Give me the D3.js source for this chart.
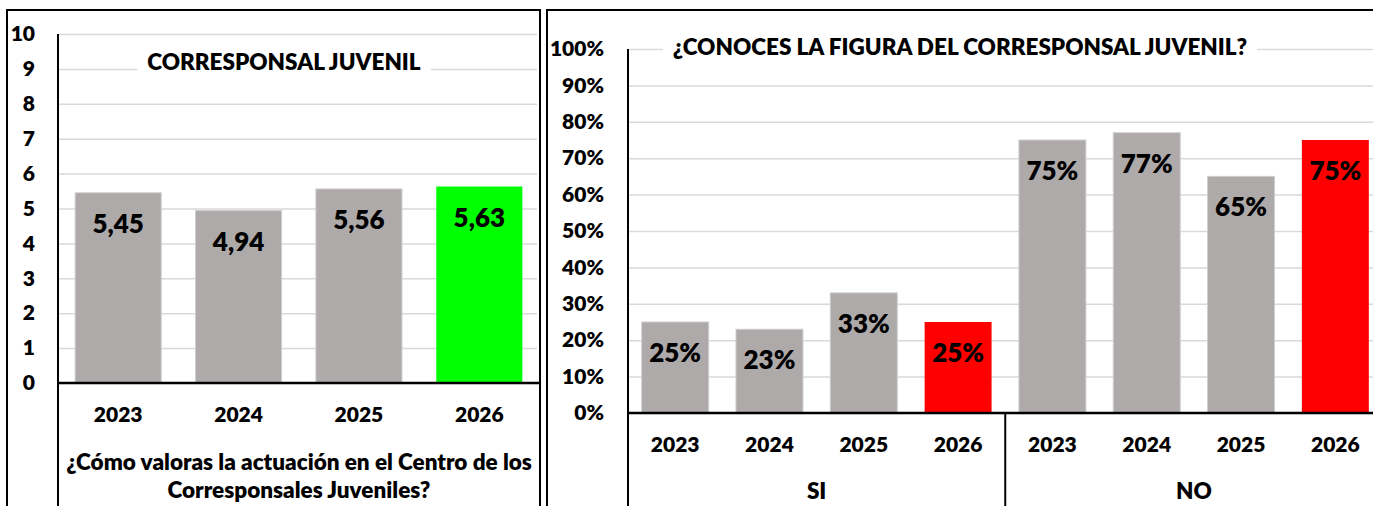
<!DOCTYPE html>
<html>
<head>
<meta charset="utf-8">
<script src="https://cdn.jsdelivr.net/npm/d3@7"></script>
<style>
  html, body { margin: 0; padding: 0; background: #fff; }
  svg { display: block; font-family: Lato, "Open Sans", sans-serif; font-weight: bold; }
</style>
</head>
<body>
<svg id="chart" width="1373" height="506"></svg>
<script>
// ---- Data ----
const leftCategories = ["2023", "2024", "2025", "2026"];
const leftValues = [5.45, 4.94, 5.56, 5.63];
const leftTicks = [0, 1, 2, 3, 4, 5, 6, 7, 8, 9, 10];
const leftTitle = "CORRESPONSAL JUVENIL";
const leftAxisTitle = ["¿Cómo valoras la actuación en el Centro de los", "Corresponsales Juveniles?"];

const rightGroups = ["SI", "NO"];
const rightYears = ["2023", "2024", "2025", "2026"];
const siValues = [25, 23, 33, 25];
const noValues = [75, 77, 65, 75];
const rightTicks = [0, 10, 20, 30, 40, 50, 60, 70, 80, 90, 100];
const rightTitle = "¿CONOCES LA FIGURA DEL CORRESPONSAL JUVENIL?";

const highlightYear = "2026";

// ---- Styles ----
const GRAY = "#AEAAAA";
const GREEN = "#00FF00";
const RED = "#FF0000";
const GRID = "#D9D9D9";
const FS_TICK = 21, FS_TEXT = 22.5, FS_VAL = 26, FW = 800;

const svg = d3.select("#chart");
const esLocale = d3.formatLocale({ decimal: ",", thousands: ".", grouping: [3], currency: ["", "€"] });
const fmtScore = esLocale.format(".2f");

function styleText(sel, size) {
  sel.attr("font-size", size).attr("font-family", "Lato").attr("font-weight", FW).attr("fill", "#000");
}

// Panel borders
svg.append("rect").attr("x", 7).attr("y", 10).attr("width", 533).attr("height", 520)
  .attr("fill", "none").attr("stroke", "#000").attr("stroke-width", 2);
svg.append("rect").attr("x", 547).attr("y", 10).attr("width", 900).attr("height", 520)
  .attr("fill", "none").attr("stroke", "#000").attr("stroke-width", 2);

// ================= LEFT CHART =================
(function () {
  const x0 = 58, x1 = 539.5, yTop = 34, yBase = 383;
  const x = d3.scaleBand().domain(leftCategories).range([x0, x1]).paddingInner(0.285).paddingOuter(0.1425);
  const y = d3.scaleLinear().domain([0, 10]).range([yBase, yTop]);
  const g = svg.append("g");

  const grid = g.append("g").attr("transform", `translate(${x0},0)`)
    .call(d3.axisLeft(y).tickValues(leftTicks).tickSize(-(537 - x0)).tickFormat(""));
  grid.select(".domain").remove();
  grid.selectAll("line").attr("stroke", GRID).attr("stroke-width", 1.5);

  const ax = g.append("g").attr("transform", `translate(35,0)`)
    .call(d3.axisLeft(y).tickValues(leftTicks).tickSize(0).tickPadding(0).tickFormat(d3.format("d")));
  ax.select(".domain").remove();
  styleText(ax.selectAll("text"), FS_TICK);

  g.selectAll("rect.bar").data(leftCategories).join("rect").attr("class", "bar")
    .attr("x", d => x(d)).attr("width", x.bandwidth())
    .attr("y", (d, i) => y(leftValues[i])).attr("height", (d, i) => yBase - y(leftValues[i]))
    .attr("fill", d => d === highlightYear ? GREEN : GRAY)
    .attr("stroke", d => d === highlightYear ? "none" : "#CFCDCD").attr("stroke-width", 1);

  styleText(g.selectAll("text.val").data(leftCategories).join("text").attr("class", "val")
    .attr("x", d => x(d) + x.bandwidth() / 2).attr("y", (d, i) => y(leftValues[i]) + 40)
    .attr("text-anchor", "middle").text((d, i) => fmtScore(leftValues[i])), FS_VAL);

  g.append("line").attr("x1", x0).attr("x2", x0).attr("y1", yTop).attr("y2", 506).attr("stroke", "#000").attr("stroke-width", 2);
  g.append("line").attr("x1", x0).attr("x2", 540).attr("y1", yBase).attr("y2", yBase).attr("stroke", "#000").attr("stroke-width", 2.5);

  const xa = g.append("g").attr("transform", `translate(0,${yBase})`)
    .call(d3.axisBottom(x).tickSize(0).tickPadding(39));
  xa.select(".domain").remove();
  styleText(xa.selectAll("text").attr("dy", 0), FS_TICK);

  styleText(g.selectAll("text.atitle").data(leftAxisTitle).join("text").attr("class", "atitle")
    .attr("x", 299).attr("y", (d, i) => 470 + i * 28).attr("text-anchor", "middle").text(d => d), FS_TEXT);

  const t = g.append("text").attr("x", 284).attr("y", 70).attr("text-anchor", "middle").text(leftTitle);
  styleText(t, FS_TEXT);
  const bb = t.node().getBBox();
  g.insert("rect", function () { return t.node(); })
    .attr("x", bb.x - 10).attr("y", bb.y - 4).attr("width", bb.width + 20).attr("height", bb.height + 8).attr("fill", "#fff");
})();

// ================= RIGHT CHART =================
(function () {
  const x0 = 628, x1 = 1382.5, yTop = 49, yBase = 413;
  const keys = [];
  const vals = [];
  rightGroups.forEach((gname, gi) => rightYears.forEach((yr, yi) => {
    keys.push(gname + "-" + yr);
    vals.push(gi === 0 ? siValues[yi] : noValues[yi]);
  }));
  const x = d3.scaleBand().domain(keys).range([x0, x1]).paddingInner(0.29).paddingOuter(0.145);
  const y = d3.scaleLinear().domain([0, 100]).range([yBase, yTop]);
  const g = svg.append("g");

  const grid = g.append("g").attr("transform", `translate(${x0},0)`)
    .call(d3.axisLeft(y).tickValues(rightTicks).tickSize(-(1373 - x0)).tickFormat(""));
  grid.select(".domain").remove();
  grid.selectAll("line").attr("stroke", GRID).attr("stroke-width", 1.5);

  const ax = g.append("g").attr("transform", `translate(604,0)`)
    .call(d3.axisLeft(y).tickValues(rightTicks).tickSize(0).tickPadding(0).tickFormat(d => d + "%"));
  ax.select(".domain").remove();
  styleText(ax.selectAll("text"), FS_TICK);

  g.selectAll("rect.bar").data(keys).join("rect").attr("class", "bar")
    .attr("x", d => x(d)).attr("width", x.bandwidth())
    .attr("y", (d, i) => y(vals[i])).attr("height", (d, i) => yBase - y(vals[i]))
    .attr("fill", d => d.endsWith(highlightYear) ? RED : GRAY)
    .attr("stroke", d => d.endsWith(highlightYear) ? "none" : "#CFCDCD").attr("stroke-width", 1);

  styleText(g.selectAll("text.val").data(keys).join("text").attr("class", "val")
    .attr("x", d => x(d) + x.bandwidth() / 2).attr("y", (d, i) => y(vals[i]) + 40)
    .attr("text-anchor", "middle").text((d, i) => vals[i] + "%"), FS_VAL);

  g.append("line").attr("x1", x0).attr("x2", x0).attr("y1", yTop).attr("y2", 506).attr("stroke", "#000").attr("stroke-width", 2);
  g.append("line").attr("x1", x0).attr("x2", 1373).attr("y1", yBase).attr("y2", yBase).attr("stroke", "#000").attr("stroke-width", 2.5);

  const xa = g.append("g").attr("transform", `translate(0,${yBase})`)
    .call(d3.axisBottom(x).tickSize(0).tickPadding(39).tickFormat(d => d.split("-")[1]));
  xa.select(".domain").remove();
  styleText(xa.selectAll("text").attr("dy", 0), FS_TICK);

  const step = x.step();
  rightGroups.forEach((gname, gi) => {
    const gx0 = x0 + gi * rightYears.length * step;
    const gx1 = gx0 + rightYears.length * step;
    if (gi > 0) {
      g.append("line").attr("x1", gx0).attr("x2", gx0).attr("y1", yBase).attr("y2", 506).attr("stroke", "#000").attr("stroke-width", 2);
    }
    styleText(g.append("text").attr("x", (gx0 + gx1) / 2).attr("y", 499).attr("text-anchor", "middle").text(gname), FS_TEXT);
  });

  const t = g.append("text").attr("x", 960).attr("y", 55).attr("text-anchor", "middle").text(rightTitle);
  styleText(t, FS_TEXT);
  const bb = t.node().getBBox();
  g.insert("rect", function () { return t.node(); })
    .attr("x", bb.x - 10).attr("y", bb.y - 4).attr("width", bb.width + 20).attr("height", bb.height + 8).attr("fill", "#fff");
})();
</script>
</body>
</html>
